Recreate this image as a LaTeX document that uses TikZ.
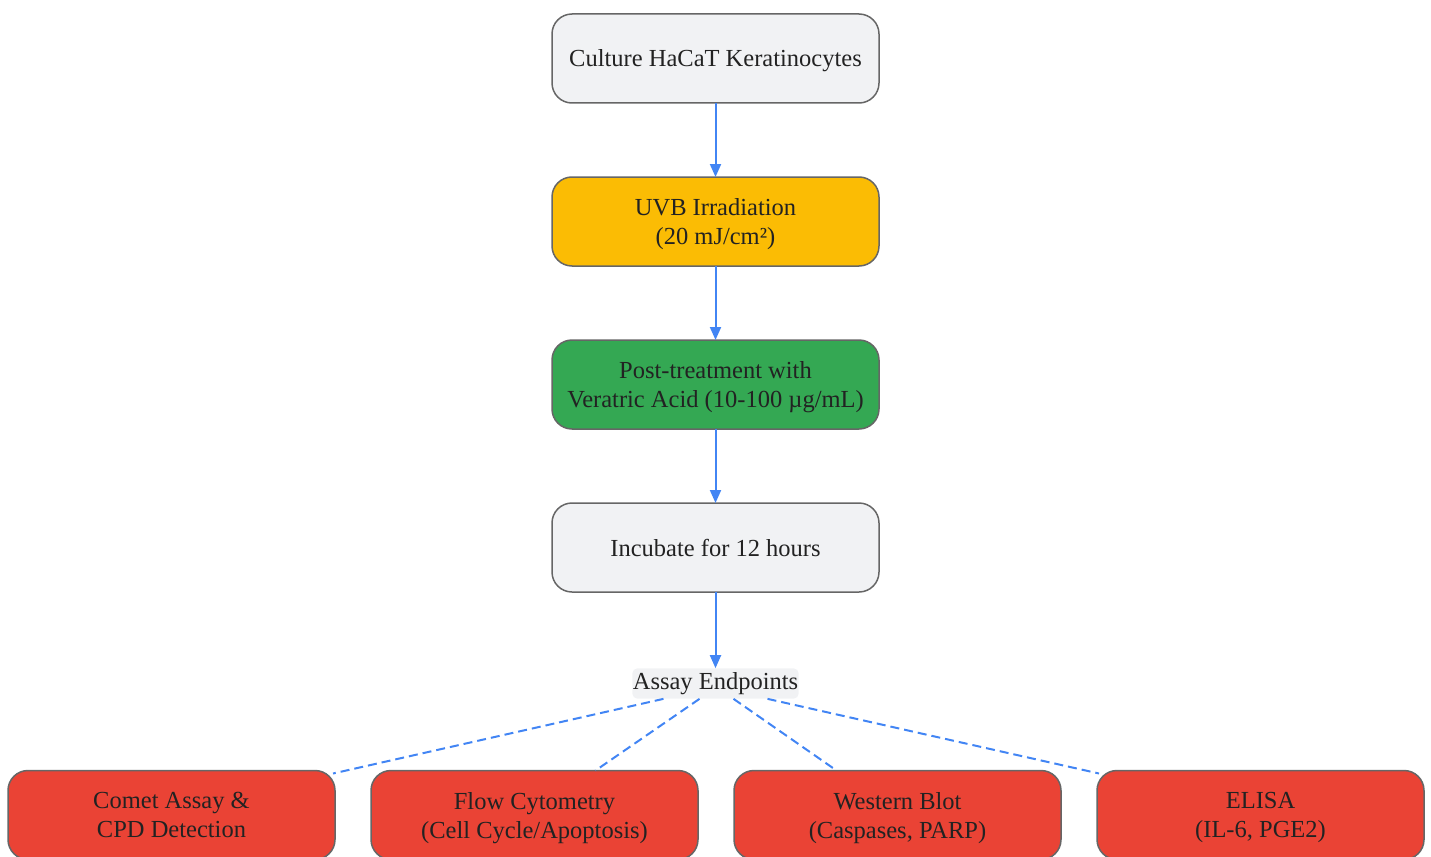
\documentclass[tikz,border=0pt]{standalone}
\usepackage{fontspec}
\setmainfont{Liberation Serif}
\usetikzlibrary{arrows.meta}
\usetikzlibrary{positioning}

\definecolor{boxgrey}{HTML}{F1F2F4}
\definecolor{uvbyellow}{HTML}{FBBC04}
\definecolor{treatgreen}{HTML}{34A853}
\definecolor{assayred}{HTML}{EA4335}
\definecolor{edgeblue}{HTML}{4285F4}
\definecolor{rimgrey}{HTML}{666666}
\definecolor{inkgrey}{HTML}{222222}

\tikzset{
  stepbox/.style={draw=rimgrey, line width=1.5pt, rectangle, rounded corners=20pt,
    outer sep=0pt, minimum width=327pt, minimum height=89pt, align=center, text=inkgrey,
    font=\fontsize{24.5}{29}\selectfont, text depth=-2pt},
  flow/.style={edgeblue, line width=2pt, -{Triangle[length=13pt, width=11pt]}},
  fan/.style={edgeblue, line width=2pt, dash pattern=on 9pt off 5pt}
}

\begin{document}
\begin{tikzpicture}[x=1pt, y=-1pt]
        \useasboundingbox (0,0) rectangle (1431,856);

        \node[stepbox, fill=boxgrey] (culture) at (715.5,58.5) {Culture HaCaT Keratinocytes};
        \node[stepbox, fill=uvbyellow, below=74pt of culture] (uvb) {UVB Irradiation\\(20 mJ/cm²)};
        \node[stepbox, fill=treatgreen, below=74pt of uvb] (treat) {Post-treatment with\\Veratric Acid (10-100 µg/mL)};
        \node[stepbox, fill=boxgrey, below=74pt of treat] (incub) {Incubate for 12 hours};
        \node[fill=boxgrey, rounded corners=5pt, inner xsep=0.5pt, inner ysep=4pt, text=inkgrey,
              font=\fontsize{24.5}{29}\selectfont] (endpts) at (715.5,683.5) {Assay Endpoints};

        \node[stepbox, fill=assayred] (comet) at (171.5,815) {Comet Assay \&\\CPD Detection};
        \node[stepbox, fill=assayred, right=36pt of comet] (flow) {Flow Cytometry\\(Cell Cycle/Apoptosis)};
        \node[stepbox, fill=assayred, right=36pt of flow] (western) {Western Blot\\(Caspases, PARP)};
        \node[stepbox, fill=assayred, right=36pt of western] (elisa) {ELISA\\(IL-6, PGE2)};

        \draw[flow] (culture) -- (uvb);
        \draw[flow] (uvb) -- (treat);
        \draw[flow] (treat) -- (incub);
        \draw[flow] (incub) -- (endpts);

        \draw[fan] ([xshift=-52pt]endpts.south) -- ([xshift=-2pt, yshift=-3pt]comet.north east);
        \draw[fan] ([xshift=-16pt]endpts.south) -- ([xshift=61pt]flow.north);
        \draw[fan] ([xshift=18pt]endpts.south) -- ([xshift=-61pt]western.north);
        \draw[fan] ([xshift=52pt]endpts.south) -- ([xshift=2pt, yshift=-3pt]elisa.north west);

\end{tikzpicture}
\end{document}
